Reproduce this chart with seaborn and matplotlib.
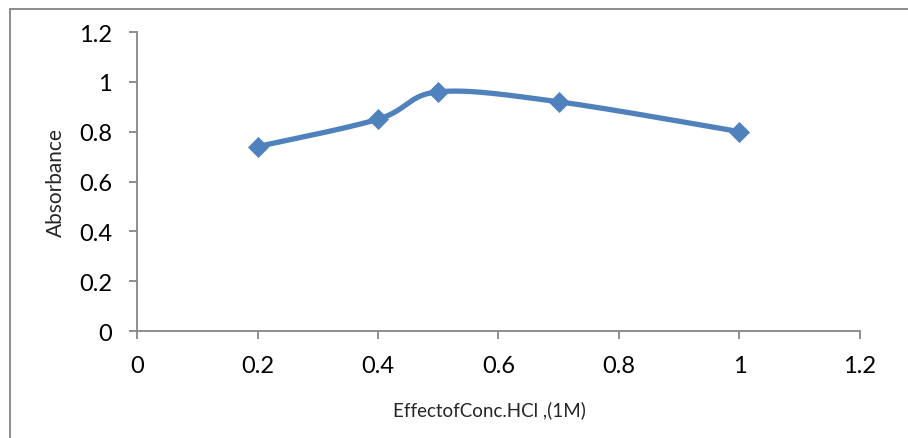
import numpy as np
import pandas as pd
import matplotlib
matplotlib.use("Agg")
import matplotlib.pyplot as plt
import seaborn as sns
from matplotlib.lines import Line2D

conc = [0.2, 0.4, 0.5, 0.7, 1.0]
absorbance = [0.74, 0.85, 0.96, 0.92, 0.80]
x_ticks = [0, 0.2, 0.4, 0.6, 0.8, 1, 1.2]
y_ticks = [0, 0.2, 0.4, 0.6, 0.8, 1, 1.2]
x_label = "EffectofConc.HCl ,(1M)"
y_label = "Absorbance"

sns.set_style("white")
plt.rcParams['font.family'] = ['Lato', 'DejaVu Sans']

# Excel-like smoothed curve (Catmull-Rom Bezier through the data points)
def smooth(xs, ys, n=40):
    P = np.column_stack([xs, ys]).astype(float)
    Pe = np.vstack([P[0], P, P[-1]])
    out = []
    for i in range(len(P) - 1):
        p0, p1, p2, p3 = Pe[i], Pe[i + 1], Pe[i + 2], Pe[i + 3]
        c1 = p1 + (p2 - p0) / 6.0
        c2 = p2 - (p3 - p1) / 6.0
        t = np.linspace(0, 1, n)[:, None]
        seg = ((1 - t) ** 3) * p1 + 3 * ((1 - t) ** 2) * t * c1 + 3 * (1 - t) * t ** 2 * c2 + t ** 3 * p2
        out.append(seg if i == 0 else seg[1:])
    s = np.vstack(out)
    return s[:, 0], s[:, 1]

sx, sy = smooth(conc, absorbance)
curve = pd.DataFrame({"x": sx, "y": sy})
pts = pd.DataFrame({"x": conc, "y": absorbance})

fig = plt.figure(figsize=(9.08, 4.39), dpi=100)
ax = fig.add_axes([0.1509, 0.2437, 0.7962, 0.6811])

color = "#4F81BD"
sns.lineplot(data=curve, x="x", y="y", sort=False, ax=ax, color=color, linewidth=3.8)
sns.scatterplot(data=pts, x="x", y="y", ax=ax, color=color, marker="D", s=115,
                edgecolor=color, linewidth=0, zorder=3)

ax.set_xlim(0, 1.2)
ax.set_ylim(0, 1.2)
ax.set_xticks(x_ticks)
ax.set_yticks(y_ticks)
ax.set_xticklabels([f"{v:g}" for v in x_ticks])
ax.set_yticklabels([f"{v:g}" for v in y_ticks])

gray = "#868686"
for s in ["top", "right"]:
    ax.spines[s].set_visible(False)
for s in ["left", "bottom"]:
    ax.spines[s].set_color(gray)
    ax.spines[s].set_linewidth(1.3)
ax.tick_params(axis="both", direction="out", length=6, width=1.3, color=gray,
               labelsize=17, labelcolor="black", bottom=True, left=True)
ax.tick_params(axis="y", pad=12)
ax.tick_params(axis="x", pad=11)

ax.set_xlabel(x_label, fontsize=13.5)
ax.set_ylabel(y_label, fontsize=15)
ax.xaxis.set_label_coords(0.487, -0.23)
ax.yaxis.set_label_coords(-0.098, 0.5)

# outer chart frame (top and left visible)
fig.add_artist(Line2D([9.5 / 908, 9.5 / 908], [0, 1 - 10 / 439], color="#8c8c8c", lw=1.4, transform=fig.transFigure))
fig.add_artist(Line2D([9.5 / 908, 1], [1 - 10 / 439, 1 - 10 / 439], color="#8c8c8c", lw=1.4, transform=fig.transFigure))

fig.savefig("out.png", dpi=100)
